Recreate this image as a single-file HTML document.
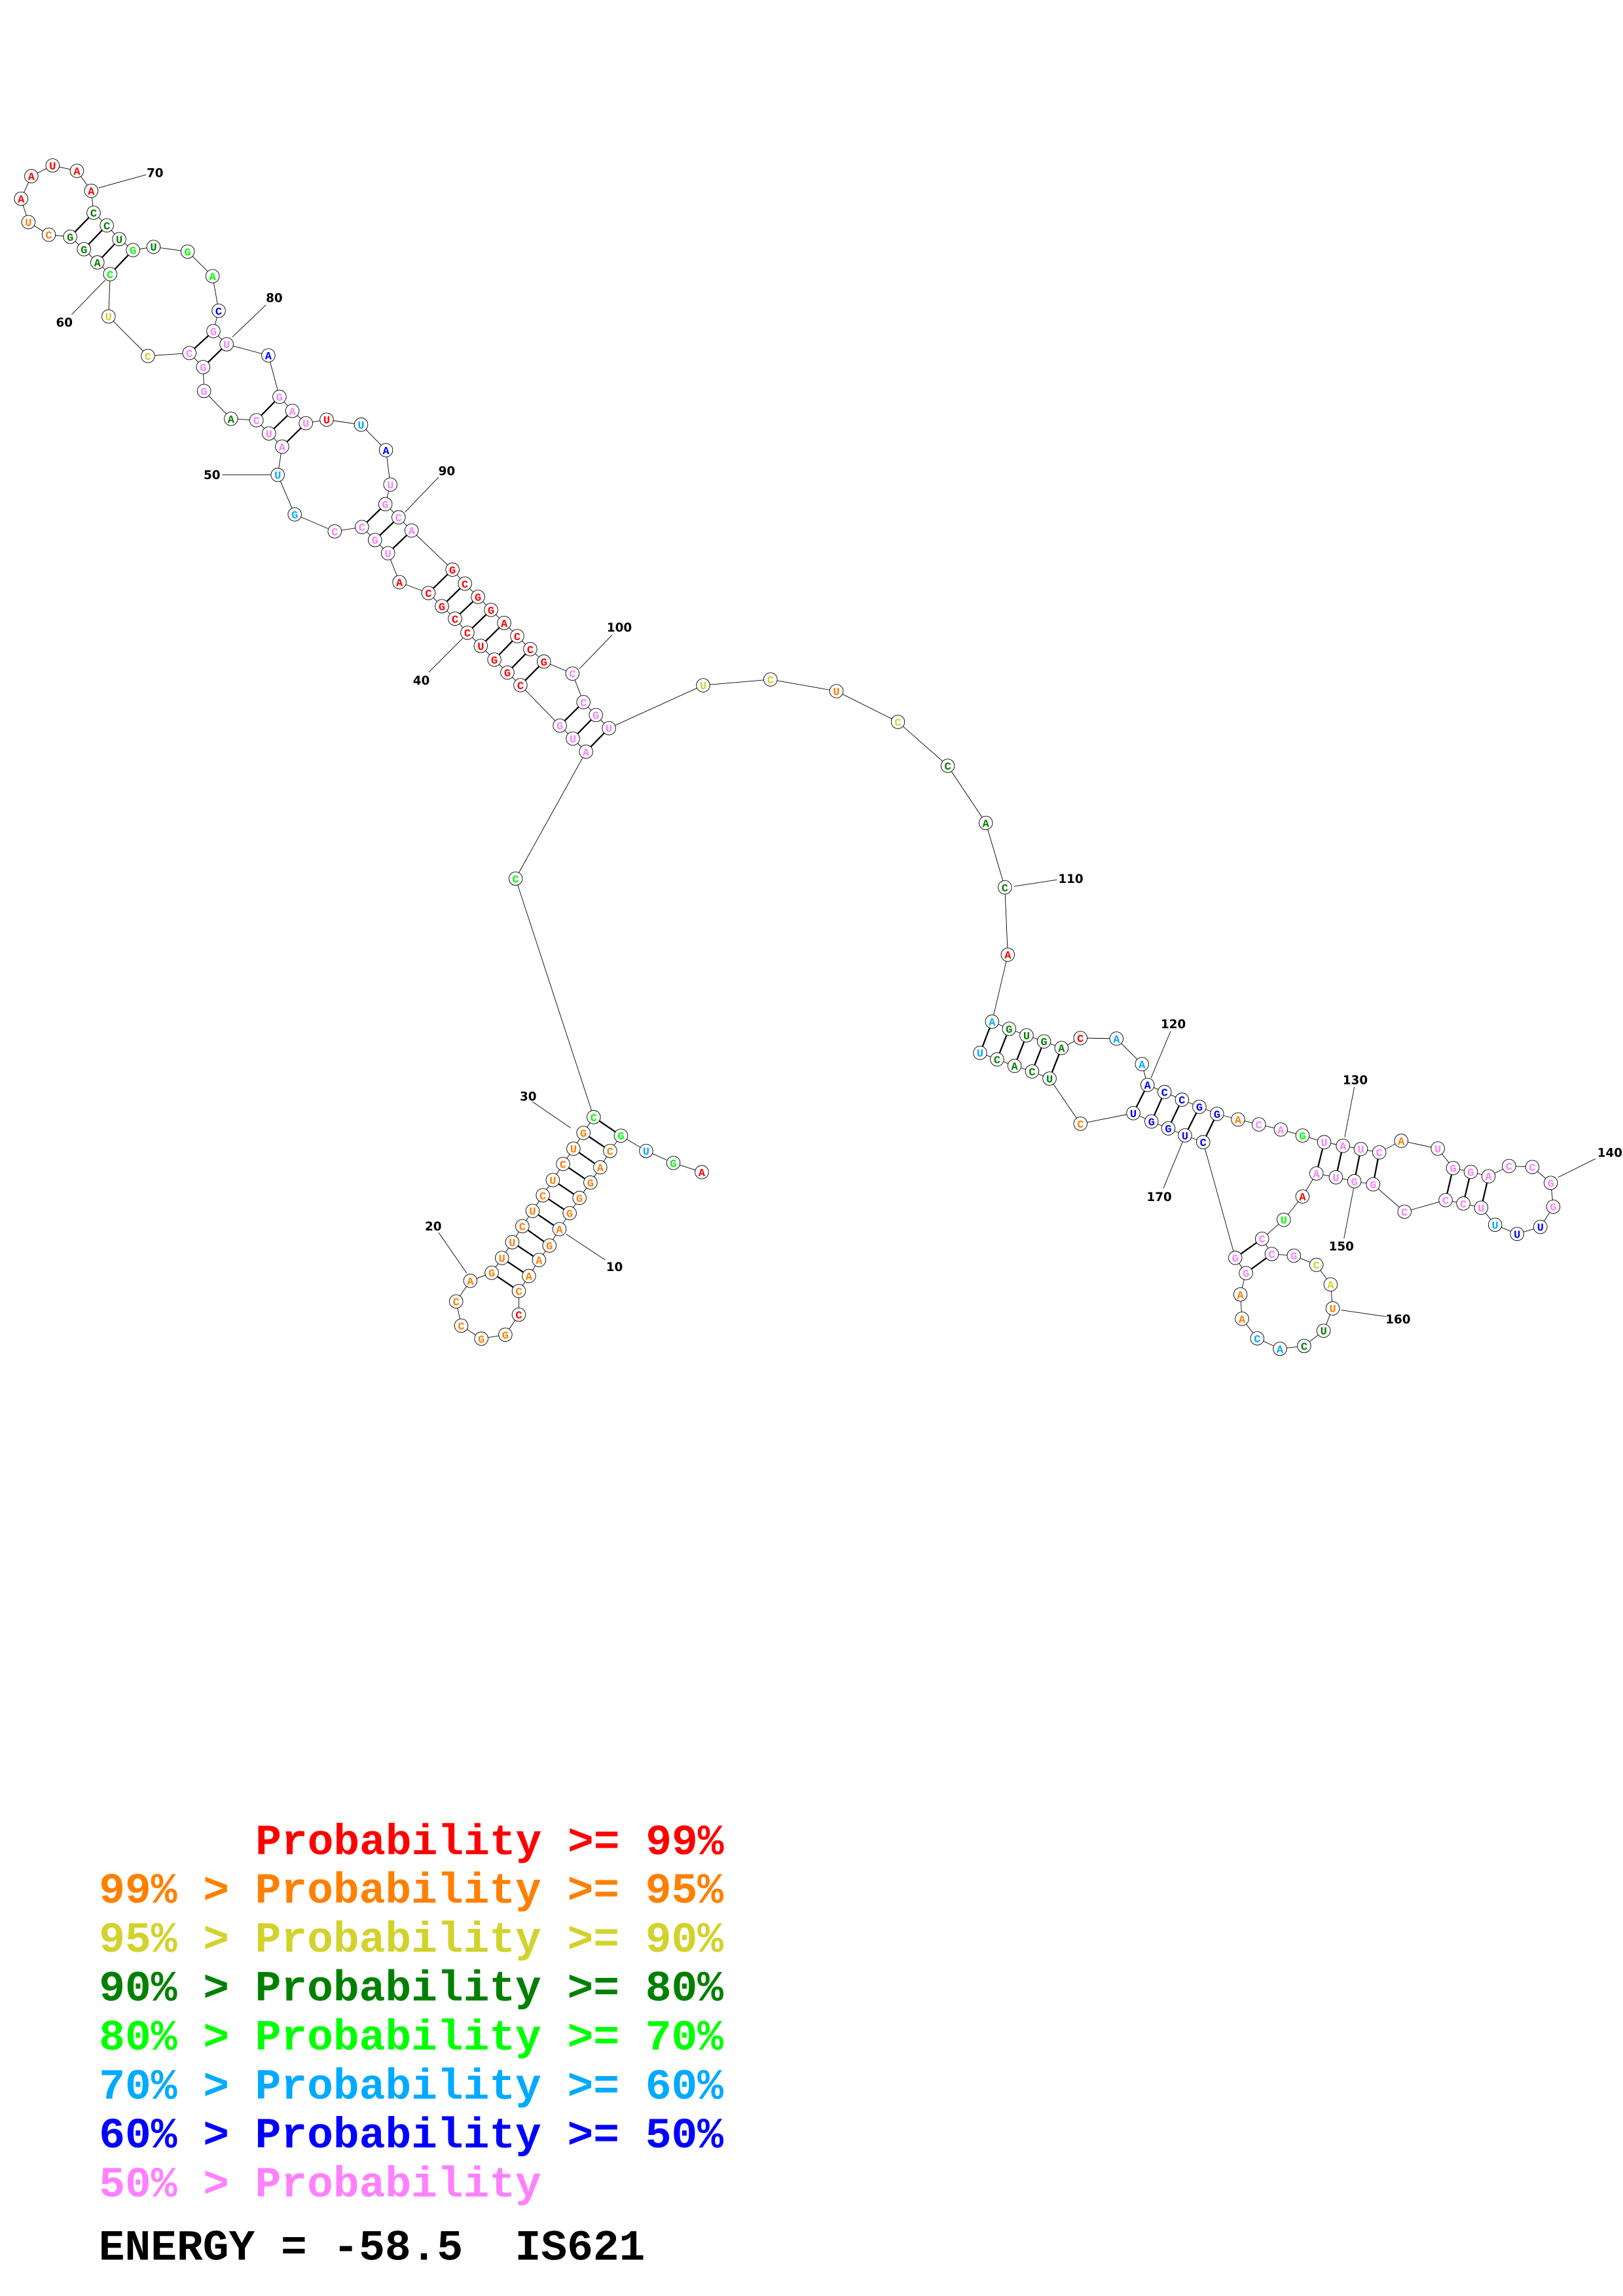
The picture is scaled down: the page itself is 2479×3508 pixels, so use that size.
<!DOCTYPE html>
<html><head><meta charset="utf-8"><style>
html,body{margin:0;padding:0;background:#fff;}
svg{display:block;}
.n{fill:#fff;stroke:#000;stroke-width:0.4;}
.t{font-family:"Liberation Mono",monospace;font-weight:bold;font-size:7.6px;text-anchor:middle;}
.R{fill:#ff0000}.O{fill:#ff8000}.Y{fill:#d2d22c}.D{fill:#008000}.L{fill:#00ff00}.B{fill:#00aaff}.N{fill:#0000ff}.P{fill:#ff80ff}
.lb{font-family:"DejaVu Sans","Liberation Sans",sans-serif;font-weight:bold;font-size:8.2px;text-anchor:middle;fill:#000}
.lg{font-family:"Liberation Mono",monospace;font-weight:bold;font-size:29.6px;}
</style></head><body>
<svg width="2479" height="3508" viewBox="0 0 1108 1568" preserveAspectRatio="none" xmlns="http://www.w3.org/2000/svg">
<rect width="1108" height="1568" fill="#fff"/>
<polyline fill="none" stroke="#000" stroke-width="0.4" points="479.1,800.5 459.7,794.2 441.1,786.0 423.9,775.6 416.5,786.0 409.8,797.2 403.1,807.6 395.6,818.1 388.9,828.5 381.9,839.4 375.1,850.6 368.0,860.5 361.1,871.4 354.2,881.7 354.2,897.8 345.0,911.5 328.6,914.2 314.9,905.3 311.4,888.8 321.1,874.7 335.7,869.2 342.7,859.1 349.7,848.3 356.6,837.4 363.6,827.0 370.6,816.3 377.4,805.9 384.4,794.9 391.5,784.5 398.3,773.7 405.3,762.9 352,600 400.1,513.3 391.1,504.4 382.2,495.5 355.3,467.9 346.4,459.3 337.5,450.5 328.2,441.1 319.1,432.1 310.6,422.5 301.7,414.0 292.5,405.0 272.7,397.6 264.9,377.8 256.0,368.8 247.1,359.9 228.5,362.9 201.2,351.3 189.6,324.3 192.6,305.0 183.6,296.0 175.1,287.0 157.7,286.0 139.3,267.0 138.7,250.7 129.3,241.1 101.0,243.1 74.1,216.1 75.2,187.2 66.5,179.2 57.3,170.2 47.9,161.7 33.3,160.3 19.4,151.7 14.4,135.7 21.4,120.3 35.9,113.0 52.5,116.7 62.3,130.3 63.9,145.3 72.9,153.9 81.4,163.3 90.8,170.8 104.8,168.6 128.1,171.8 145.1,188.6 149.3,212.2 145.7,226.1 154.7,235.1 183.2,242.7 190.8,271.0 199.6,280.6 208.8,289.0 223.0,286.6 246.5,290.0 263.5,307.4 266.5,330.9 263.1,344.3 272.1,353.3 281.0,362.3 308.9,389.0 317.4,398.6 326.3,407.6 335.2,416.5 344.2,425.4 353.1,434.4 362.0,443.3 371.3,451.8 390.8,460.0 398.3,479.5 406.8,488.3 415.7,497.3 480,468 526,464 571,472 613,493 647,523 673,562 686,606 688,652 677.3,697.7 688.9,702.6 700.8,707.1 712.7,711.2 724.7,715.7 737.6,708.9 762.2,709.3 779.6,726.7 783.4,740.9 795.0,745.8 806.9,751.0 818.8,755.9 830.8,760.7 845.2,764.5 859.4,767.9 874.4,771.4 889.2,775.5 904,780 916.8,782.5 929,784.7 941.6,787 956.6,779.1 981.6,784.4 992,797.7 1004.1,800.3 1016.2,803.3 1030.2,796.3 1046.1,797 1058.7,807.8 1060.4,824.1 1051.6,837.9 1035.7,842.7 1020.7,836.4 1011.2,824.8 999,821.9 986.9,819.6 958.8,827.5 937.4,808.8 924.6,806.7 912,804 898.7,801.4 889.2,817.1 876.4,833 861.6,846 868.2,856.4 883.3,857.5 898.7,863.8 908.4,877.2 909.8,893.5 903.6,908.8 890.3,919.2 873.8,921.1 858.3,914.0 847.9,900.6 846.8,884.0 850.6,869.4 843.3,859.0 821.4,780.0 809,775.4 797.6,770.6 786.1,765.9 773.7,760.2 737.6,767.4 716.5,736.6 704.6,731.7 692.6,727.9 680.7,723.5 669.1,719"/>
<g stroke="#000" stroke-width="1.0">
<line x1="423.9" y1="775.6" x2="405.3" y2="762.9"/><line x1="416.5" y1="786.0" x2="398.3" y2="773.7"/><line x1="409.8" y1="797.2" x2="391.5" y2="784.5"/><line x1="403.1" y1="807.6" x2="384.4" y2="794.9"/><line x1="395.6" y1="818.1" x2="377.4" y2="805.9"/><line x1="388.9" y1="828.5" x2="370.6" y2="816.3"/><line x1="381.9" y1="839.4" x2="363.6" y2="827.0"/><line x1="375.1" y1="850.6" x2="356.6" y2="837.4"/><line x1="368.0" y1="860.5" x2="349.7" y2="848.3"/><line x1="361.1" y1="871.4" x2="342.7" y2="859.1"/><line x1="354.2" y1="881.7" x2="335.7" y2="869.2"/>
<line x1="400.1" y1="513.3" x2="415.7" y2="497.3"/><line x1="391.1" y1="504.4" x2="406.8" y2="488.3"/><line x1="382.2" y1="495.5" x2="398.3" y2="479.5"/>
<line x1="355.3" y1="467.9" x2="371.3" y2="451.8"/><line x1="346.4" y1="459.3" x2="362.0" y2="443.3"/><line x1="337.5" y1="450.5" x2="353.1" y2="434.4"/><line x1="328.2" y1="441.1" x2="344.2" y2="425.4"/><line x1="319.1" y1="432.1" x2="335.2" y2="416.5"/><line x1="310.6" y1="422.5" x2="326.3" y2="407.6"/><line x1="301.7" y1="414.0" x2="317.4" y2="398.6"/><line x1="292.5" y1="405.0" x2="308.9" y2="389.0"/>
<line x1="264.9" y1="377.8" x2="281.0" y2="362.3"/><line x1="256.0" y1="368.8" x2="272.1" y2="353.3"/><line x1="247.1" y1="359.9" x2="263.1" y2="344.3"/>
<line x1="192.6" y1="305.0" x2="208.8" y2="289.0"/><line x1="183.6" y1="296.0" x2="199.6" y2="280.6"/><line x1="175.1" y1="287.0" x2="190.8" y2="271.0"/>
<line x1="138.7" y1="250.7" x2="154.7" y2="235.1"/><line x1="129.3" y1="241.1" x2="145.7" y2="226.1"/>
<line x1="75.2" y1="187.2" x2="90.8" y2="170.8"/><line x1="66.5" y1="179.2" x2="81.4" y2="163.3"/><line x1="57.3" y1="170.2" x2="72.9" y2="153.9"/><line x1="47.9" y1="161.7" x2="63.9" y2="145.3"/>
<line x1="677.3" y1="697.7" x2="669.1" y2="719"/><line x1="688.9" y1="702.6" x2="680.7" y2="723.5"/><line x1="700.8" y1="707.1" x2="692.6" y2="727.9"/><line x1="712.7" y1="711.2" x2="704.6" y2="731.7"/><line x1="724.7" y1="715.7" x2="716.5" y2="736.6"/>
<line x1="783.4" y1="740.9" x2="773.7" y2="760.2"/><line x1="795.0" y1="745.8" x2="786.1" y2="765.9"/><line x1="806.9" y1="751.0" x2="797.6" y2="770.6"/><line x1="818.8" y1="755.9" x2="809" y2="775.4"/><line x1="830.8" y1="760.7" x2="821.4" y2="780.0"/>
<line x1="904" y1="780" x2="898.7" y2="801.4"/><line x1="916.8" y1="782.5" x2="912" y2="804"/><line x1="929" y1="784.7" x2="924.6" y2="806.7"/><line x1="941.6" y1="787" x2="937.4" y2="808.8"/>
<line x1="992" y1="797.7" x2="986.9" y2="819.6"/><line x1="1004.1" y1="800.3" x2="999" y2="821.9"/><line x1="1016.2" y1="803.3" x2="1011.2" y2="824.8"/>
<line x1="861.6" y1="846" x2="843.3" y2="859.0"/><line x1="868.2" y1="856.4" x2="850.6" y2="869.4"/>
</g>
<g stroke="#000" stroke-width="0.4">
<line x1="386.4" y1="842.7" x2="413.2" y2="860.5"/><line x1="299.5" y1="841.8" x2="318.6" y2="869.5"/><line x1="363.5" y1="752.4" x2="389.6" y2="770.3"/><line x1="292.8" y1="459.0" x2="315.9" y2="435.9"/><line x1="151.7" y1="324.3" x2="185.2" y2="324.3"/><line x1="48.9" y1="214.8" x2="71.9" y2="191.2"/><line x1="67.3" y1="128.3" x2="99.8" y2="119.3"/><line x1="181.6" y1="208.2" x2="158.7" y2="230.1"/><line x1="299.4" y1="325.9" x2="276.4" y2="349.9"/><line x1="417.9" y1="433.6" x2="395.6" y2="456.7"/><line x1="692.4" y1="605.3" x2="721.6" y2="600.8"/><line x1="799.2" y1="704.1" x2="785.8" y2="736.1"/><line x1="924.6" y1="742.4" x2="918" y2="776.6"/><line x1="1089.1" y1="791.4" x2="1063.7" y2="804"/><line x1="917.5" y1="845.7" x2="924.1" y2="811.5"/><line x1="915.7" y1="894.7" x2="946.2" y2="899.1"/><line x1="794.2" y1="811.5" x2="807.5" y2="779.5"/>
</g>
<g class="lb">
<text x="419.5" y="868">10</text><text x="295.8" y="840.4">20</text><text x="360.6" y="751.7">30</text><text x="287.6" y="467.6">40</text><text x="144.7" y="327.3">50</text><text x="43.9" y="223.1">60</text><text x="105.8" y="120.9">70</text><text x="187.2" y="206.2">80</text><text x="305" y="324.5">90</text><text x="422.8" y="431.4">100</text><text x="731" y="603">110</text><text x="801" y="702.2">120</text><text x="925.2" y="740.5">130</text><text x="1099" y="790">140</text><text x="915.7" y="853.9">150</text><text x="954.4" y="903.9">160</text><text x="791.4" y="820.1">170</text>
</g>
<g class="nodes">
<circle class="n" cx="479.1" cy="800.5" r="4.6"/><circle class="n" cx="459.7" cy="794.2" r="4.6"/><circle class="n" cx="441.1" cy="786.0" r="4.6"/><circle class="n" cx="423.9" cy="775.6" r="4.6"/><circle class="n" cx="416.5" cy="786.0" r="4.6"/><circle class="n" cx="409.8" cy="797.2" r="4.6"/><circle class="n" cx="403.1" cy="807.6" r="4.6"/><circle class="n" cx="395.6" cy="818.1" r="4.6"/><circle class="n" cx="388.9" cy="828.5" r="4.6"/><circle class="n" cx="381.9" cy="839.4" r="4.6"/><circle class="n" cx="375.1" cy="850.6" r="4.6"/><circle class="n" cx="368.0" cy="860.5" r="4.6"/><circle class="n" cx="361.1" cy="871.4" r="4.6"/><circle class="n" cx="354.2" cy="881.7" r="4.6"/><circle class="n" cx="354.2" cy="897.8" r="4.6"/><circle class="n" cx="345.0" cy="911.5" r="4.6"/><circle class="n" cx="328.6" cy="914.2" r="4.6"/><circle class="n" cx="314.9" cy="905.3" r="4.6"/><circle class="n" cx="311.4" cy="888.8" r="4.6"/><circle class="n" cx="321.1" cy="874.7" r="4.6"/><circle class="n" cx="335.7" cy="869.2" r="4.6"/><circle class="n" cx="342.7" cy="859.1" r="4.6"/><circle class="n" cx="349.7" cy="848.3" r="4.6"/><circle class="n" cx="356.6" cy="837.4" r="4.6"/><circle class="n" cx="363.6" cy="827.0" r="4.6"/><circle class="n" cx="370.6" cy="816.3" r="4.6"/><circle class="n" cx="377.4" cy="805.9" r="4.6"/><circle class="n" cx="384.4" cy="794.9" r="4.6"/><circle class="n" cx="391.5" cy="784.5" r="4.6"/><circle class="n" cx="398.3" cy="773.7" r="4.6"/><circle class="n" cx="405.3" cy="762.9" r="4.6"/><circle class="n" cx="352" cy="600" r="4.6"/><circle class="n" cx="400.1" cy="513.3" r="4.6"/><circle class="n" cx="391.1" cy="504.4" r="4.6"/><circle class="n" cx="382.2" cy="495.5" r="4.6"/><circle class="n" cx="355.3" cy="467.9" r="4.6"/><circle class="n" cx="346.4" cy="459.3" r="4.6"/><circle class="n" cx="337.5" cy="450.5" r="4.6"/><circle class="n" cx="328.2" cy="441.1" r="4.6"/><circle class="n" cx="319.1" cy="432.1" r="4.6"/><circle class="n" cx="310.6" cy="422.5" r="4.6"/><circle class="n" cx="301.7" cy="414.0" r="4.6"/><circle class="n" cx="292.5" cy="405.0" r="4.6"/><circle class="n" cx="272.7" cy="397.6" r="4.6"/><circle class="n" cx="264.9" cy="377.8" r="4.6"/><circle class="n" cx="256.0" cy="368.8" r="4.6"/><circle class="n" cx="247.1" cy="359.9" r="4.6"/><circle class="n" cx="228.5" cy="362.9" r="4.6"/><circle class="n" cx="201.2" cy="351.3" r="4.6"/><circle class="n" cx="189.6" cy="324.3" r="4.6"/><circle class="n" cx="192.6" cy="305.0" r="4.6"/><circle class="n" cx="183.6" cy="296.0" r="4.6"/><circle class="n" cx="175.1" cy="287.0" r="4.6"/><circle class="n" cx="157.7" cy="286.0" r="4.6"/><circle class="n" cx="139.3" cy="267.0" r="4.6"/><circle class="n" cx="138.7" cy="250.7" r="4.6"/><circle class="n" cx="129.3" cy="241.1" r="4.6"/><circle class="n" cx="101.0" cy="243.1" r="4.6"/><circle class="n" cx="74.1" cy="216.1" r="4.6"/><circle class="n" cx="75.2" cy="187.2" r="4.6"/><circle class="n" cx="66.5" cy="179.2" r="4.6"/><circle class="n" cx="57.3" cy="170.2" r="4.6"/><circle class="n" cx="47.9" cy="161.7" r="4.6"/><circle class="n" cx="33.3" cy="160.3" r="4.6"/><circle class="n" cx="19.4" cy="151.7" r="4.6"/><circle class="n" cx="14.4" cy="135.7" r="4.6"/><circle class="n" cx="21.4" cy="120.3" r="4.6"/><circle class="n" cx="35.9" cy="113.0" r="4.6"/><circle class="n" cx="52.5" cy="116.7" r="4.6"/><circle class="n" cx="62.3" cy="130.3" r="4.6"/><circle class="n" cx="63.9" cy="145.3" r="4.6"/><circle class="n" cx="72.9" cy="153.9" r="4.6"/><circle class="n" cx="81.4" cy="163.3" r="4.6"/><circle class="n" cx="90.8" cy="170.8" r="4.6"/><circle class="n" cx="104.8" cy="168.6" r="4.6"/><circle class="n" cx="128.1" cy="171.8" r="4.6"/><circle class="n" cx="145.1" cy="188.6" r="4.6"/><circle class="n" cx="149.3" cy="212.2" r="4.6"/><circle class="n" cx="145.7" cy="226.1" r="4.6"/><circle class="n" cx="154.7" cy="235.1" r="4.6"/><circle class="n" cx="183.2" cy="242.7" r="4.6"/><circle class="n" cx="190.8" cy="271.0" r="4.6"/><circle class="n" cx="199.6" cy="280.6" r="4.6"/><circle class="n" cx="208.8" cy="289.0" r="4.6"/><circle class="n" cx="223.0" cy="286.6" r="4.6"/><circle class="n" cx="246.5" cy="290.0" r="4.6"/><circle class="n" cx="263.5" cy="307.4" r="4.6"/><circle class="n" cx="266.5" cy="330.9" r="4.6"/><circle class="n" cx="263.1" cy="344.3" r="4.6"/><circle class="n" cx="272.1" cy="353.3" r="4.6"/><circle class="n" cx="281.0" cy="362.3" r="4.6"/><circle class="n" cx="308.9" cy="389.0" r="4.6"/><circle class="n" cx="317.4" cy="398.6" r="4.6"/><circle class="n" cx="326.3" cy="407.6" r="4.6"/><circle class="n" cx="335.2" cy="416.5" r="4.6"/><circle class="n" cx="344.2" cy="425.4" r="4.6"/><circle class="n" cx="353.1" cy="434.4" r="4.6"/><circle class="n" cx="362.0" cy="443.3" r="4.6"/><circle class="n" cx="371.3" cy="451.8" r="4.6"/><circle class="n" cx="390.8" cy="460.0" r="4.6"/><circle class="n" cx="398.3" cy="479.5" r="4.6"/><circle class="n" cx="406.8" cy="488.3" r="4.6"/><circle class="n" cx="415.7" cy="497.3" r="4.6"/><circle class="n" cx="480" cy="468" r="4.6"/><circle class="n" cx="526" cy="464" r="4.6"/><circle class="n" cx="571" cy="472" r="4.6"/><circle class="n" cx="613" cy="493" r="4.6"/><circle class="n" cx="647" cy="523" r="4.6"/><circle class="n" cx="673" cy="562" r="4.6"/><circle class="n" cx="686" cy="606" r="4.6"/><circle class="n" cx="688" cy="652" r="4.6"/><circle class="n" cx="677.3" cy="697.7" r="4.6"/><circle class="n" cx="688.9" cy="702.6" r="4.6"/><circle class="n" cx="700.8" cy="707.1" r="4.6"/><circle class="n" cx="712.7" cy="711.2" r="4.6"/><circle class="n" cx="724.7" cy="715.7" r="4.6"/><circle class="n" cx="737.6" cy="708.9" r="4.6"/><circle class="n" cx="762.2" cy="709.3" r="4.6"/><circle class="n" cx="779.6" cy="726.7" r="4.6"/><circle class="n" cx="783.4" cy="740.9" r="4.6"/><circle class="n" cx="795.0" cy="745.8" r="4.6"/><circle class="n" cx="806.9" cy="751.0" r="4.6"/><circle class="n" cx="818.8" cy="755.9" r="4.6"/><circle class="n" cx="830.8" cy="760.7" r="4.6"/><circle class="n" cx="845.2" cy="764.5" r="4.6"/><circle class="n" cx="859.4" cy="767.9" r="4.6"/><circle class="n" cx="874.4" cy="771.4" r="4.6"/><circle class="n" cx="889.2" cy="775.5" r="4.6"/><circle class="n" cx="904" cy="780" r="4.6"/><circle class="n" cx="916.8" cy="782.5" r="4.6"/><circle class="n" cx="929" cy="784.7" r="4.6"/><circle class="n" cx="941.6" cy="787" r="4.6"/><circle class="n" cx="956.6" cy="779.1" r="4.6"/><circle class="n" cx="981.6" cy="784.4" r="4.6"/><circle class="n" cx="992" cy="797.7" r="4.6"/><circle class="n" cx="1004.1" cy="800.3" r="4.6"/><circle class="n" cx="1016.2" cy="803.3" r="4.6"/><circle class="n" cx="1030.2" cy="796.3" r="4.6"/><circle class="n" cx="1046.1" cy="797" r="4.6"/><circle class="n" cx="1058.7" cy="807.8" r="4.6"/><circle class="n" cx="1060.4" cy="824.1" r="4.6"/><circle class="n" cx="1051.6" cy="837.9" r="4.6"/><circle class="n" cx="1035.7" cy="842.7" r="4.6"/><circle class="n" cx="1020.7" cy="836.4" r="4.6"/><circle class="n" cx="1011.2" cy="824.8" r="4.6"/><circle class="n" cx="999" cy="821.9" r="4.6"/><circle class="n" cx="986.9" cy="819.6" r="4.6"/><circle class="n" cx="958.8" cy="827.5" r="4.6"/><circle class="n" cx="937.4" cy="808.8" r="4.6"/><circle class="n" cx="924.6" cy="806.7" r="4.6"/><circle class="n" cx="912" cy="804" r="4.6"/><circle class="n" cx="898.7" cy="801.4" r="4.6"/><circle class="n" cx="889.2" cy="817.1" r="4.6"/><circle class="n" cx="876.4" cy="833" r="4.6"/><circle class="n" cx="861.6" cy="846" r="4.6"/><circle class="n" cx="868.2" cy="856.4" r="4.6"/><circle class="n" cx="883.3" cy="857.5" r="4.6"/><circle class="n" cx="898.7" cy="863.8" r="4.6"/><circle class="n" cx="908.4" cy="877.2" r="4.6"/><circle class="n" cx="909.8" cy="893.5" r="4.6"/><circle class="n" cx="903.6" cy="908.8" r="4.6"/><circle class="n" cx="890.3" cy="919.2" r="4.6"/><circle class="n" cx="873.8" cy="921.1" r="4.6"/><circle class="n" cx="858.3" cy="914.0" r="4.6"/><circle class="n" cx="847.9" cy="900.6" r="4.6"/><circle class="n" cx="846.8" cy="884.0" r="4.6"/><circle class="n" cx="850.6" cy="869.4" r="4.6"/><circle class="n" cx="843.3" cy="859.0" r="4.6"/><circle class="n" cx="821.4" cy="780.0" r="4.6"/><circle class="n" cx="809" cy="775.4" r="4.6"/><circle class="n" cx="797.6" cy="770.6" r="4.6"/><circle class="n" cx="786.1" cy="765.9" r="4.6"/><circle class="n" cx="773.7" cy="760.2" r="4.6"/><circle class="n" cx="737.6" cy="767.4" r="4.6"/><circle class="n" cx="716.5" cy="736.6" r="4.6"/><circle class="n" cx="704.6" cy="731.7" r="4.6"/><circle class="n" cx="692.6" cy="727.9" r="4.6"/><circle class="n" cx="680.7" cy="723.5" r="4.6"/><circle class="n" cx="669.1" cy="719" r="4.6"/>
</g>
<g class="t">
<text class="R" x="479.1" y="803.2">A</text><text class="L" x="459.7" y="796.9">G</text><text class="B" x="441.1" y="788.7">U</text><text class="L" x="423.9" y="778.3">G</text><text class="O" x="416.5" y="788.7">C</text><text class="O" x="409.8" y="799.9">A</text><text class="O" x="403.1" y="810.3">G</text><text class="O" x="395.6" y="820.8">G</text><text class="O" x="388.9" y="831.2">G</text><text class="O" x="381.9" y="842.1">A</text><text class="O" x="375.1" y="853.3">G</text><text class="O" x="368.0" y="863.2">A</text><text class="O" x="361.1" y="874.1">A</text><text class="O" x="354.2" y="884.4">C</text><text class="R" x="354.2" y="900.5">C</text><text class="O" x="345.0" y="914.2">G</text><text class="O" x="328.6" y="916.9">G</text><text class="O" x="314.9" y="908.0">C</text><text class="O" x="311.4" y="891.5">C</text><text class="O" x="321.1" y="877.4">A</text><text class="O" x="335.7" y="871.9">G</text><text class="O" x="342.7" y="861.8">U</text><text class="O" x="349.7" y="851.0">U</text><text class="O" x="356.6" y="840.1">C</text><text class="O" x="363.6" y="829.7">U</text><text class="O" x="370.6" y="819.0">C</text><text class="O" x="377.4" y="808.6">U</text><text class="O" x="384.4" y="797.6">C</text><text class="O" x="391.5" y="787.2">U</text><text class="O" x="398.3" y="776.4">G</text><text class="L" x="405.3" y="765.6">C</text><text class="L" x="352" y="602.7">C</text><text class="P" x="400.1" y="516.0">A</text><text class="P" x="391.1" y="507.1">U</text><text class="P" x="382.2" y="498.2">G</text><text class="R" x="355.3" y="470.6">C</text><text class="R" x="346.4" y="462.0">G</text><text class="R" x="337.5" y="453.2">G</text><text class="R" x="328.2" y="443.8">U</text><text class="R" x="319.1" y="434.8">C</text><text class="R" x="310.6" y="425.2">C</text><text class="R" x="301.7" y="416.7">G</text><text class="R" x="292.5" y="407.7">C</text><text class="R" x="272.7" y="400.3">A</text><text class="P" x="264.9" y="380.5">U</text><text class="P" x="256.0" y="371.5">G</text><text class="P" x="247.1" y="362.6">C</text><text class="P" x="228.5" y="365.6">C</text><text class="B" x="201.2" y="354.0">G</text><text class="B" x="189.6" y="327.0">U</text><text class="P" x="192.6" y="307.7">A</text><text class="P" x="183.6" y="298.7">U</text><text class="P" x="175.1" y="289.7">C</text><text class="D" x="157.7" y="288.7">A</text><text class="P" x="139.3" y="269.7">G</text><text class="P" x="138.7" y="253.4">G</text><text class="P" x="129.3" y="243.8">C</text><text class="Y" x="101.0" y="245.8">C</text><text class="Y" x="74.1" y="218.8">U</text><text class="L" x="75.2" y="189.9">C</text><text class="D" x="66.5" y="181.9">A</text><text class="D" x="57.3" y="172.9">G</text><text class="D" x="47.9" y="164.4">G</text><text class="O" x="33.3" y="163.0">C</text><text class="O" x="19.4" y="154.4">U</text><text class="R" x="14.4" y="138.4">A</text><text class="R" x="21.4" y="123.0">A</text><text class="R" x="35.9" y="115.7">U</text><text class="R" x="52.5" y="119.4">A</text><text class="R" x="62.3" y="133.0">A</text><text class="D" x="63.9" y="148.0">C</text><text class="D" x="72.9" y="156.6">C</text><text class="D" x="81.4" y="166.0">U</text><text class="L" x="90.8" y="173.5">G</text><text class="D" x="104.8" y="171.3">U</text><text class="L" x="128.1" y="174.5">G</text><text class="L" x="145.1" y="191.3">A</text><text class="N" x="149.3" y="214.9">C</text><text class="P" x="145.7" y="228.8">G</text><text class="P" x="154.7" y="237.8">U</text><text class="N" x="183.2" y="245.4">A</text><text class="P" x="190.8" y="273.7">G</text><text class="P" x="199.6" y="283.3">A</text><text class="P" x="208.8" y="291.7">U</text><text class="R" x="223.0" y="289.3">U</text><text class="B" x="246.5" y="292.7">U</text><text class="N" x="263.5" y="310.1">A</text><text class="P" x="266.5" y="333.6">U</text><text class="P" x="263.1" y="347.0">G</text><text class="P" x="272.1" y="356.0">C</text><text class="P" x="281.0" y="365.0">A</text><text class="R" x="308.9" y="391.7">G</text><text class="R" x="317.4" y="401.3">C</text><text class="R" x="326.3" y="410.3">G</text><text class="R" x="335.2" y="419.2">G</text><text class="R" x="344.2" y="428.1">A</text><text class="R" x="353.1" y="437.1">C</text><text class="R" x="362.0" y="446.0">C</text><text class="R" x="371.3" y="454.5">G</text><text class="P" x="390.8" y="462.7">C</text><text class="P" x="398.3" y="482.2">C</text><text class="P" x="406.8" y="491.0">G</text><text class="P" x="415.7" y="500.0">U</text><text class="Y" x="480" y="470.7">U</text><text class="Y" x="526" y="466.7">C</text><text class="O" x="571" y="474.7">U</text><text class="Y" x="613" y="495.7">C</text><text class="D" x="647" y="525.7">C</text><text class="D" x="673" y="564.7">A</text><text class="D" x="686" y="608.7">C</text><text class="R" x="688" y="654.7">A</text><text class="B" x="677.3" y="700.4">A</text><text class="D" x="688.9" y="705.3">G</text><text class="D" x="700.8" y="709.8">U</text><text class="D" x="712.7" y="713.9">G</text><text class="D" x="724.7" y="718.4">A</text><text class="R" x="737.6" y="711.6">C</text><text class="B" x="762.2" y="712.0">A</text><text class="B" x="779.6" y="729.4">A</text><text class="N" x="783.4" y="743.6">A</text><text class="N" x="795.0" y="748.5">C</text><text class="N" x="806.9" y="753.7">C</text><text class="N" x="818.8" y="758.6">G</text><text class="N" x="830.8" y="763.4">G</text><text class="O" x="845.2" y="767.2">A</text><text class="P" x="859.4" y="770.6">C</text><text class="P" x="874.4" y="774.1">A</text><text class="L" x="889.2" y="778.2">G</text><text class="P" x="904" y="782.7">U</text><text class="P" x="916.8" y="785.2">A</text><text class="P" x="929" y="787.4">U</text><text class="P" x="941.6" y="789.7">C</text><text class="O" x="956.6" y="781.8">A</text><text class="P" x="981.6" y="787.1">U</text><text class="P" x="992" y="800.4">G</text><text class="P" x="1004.1" y="803.0">G</text><text class="P" x="1016.2" y="806.0">A</text><text class="P" x="1030.2" y="799.0">C</text><text class="P" x="1046.1" y="799.7">C</text><text class="P" x="1058.7" y="810.5">G</text><text class="P" x="1060.4" y="826.8">G</text><text class="N" x="1051.6" y="840.6">U</text><text class="N" x="1035.7" y="845.4">U</text><text class="B" x="1020.7" y="839.1">U</text><text class="P" x="1011.2" y="827.5">U</text><text class="P" x="999" y="824.6">C</text><text class="P" x="986.9" y="822.3">C</text><text class="P" x="958.8" y="830.2">C</text><text class="P" x="937.4" y="811.5">G</text><text class="P" x="924.6" y="809.4">G</text><text class="P" x="912" y="806.7">U</text><text class="P" x="898.7" y="804.1">A</text><text class="R" x="889.2" y="819.8">A</text><text class="L" x="876.4" y="835.7">U</text><text class="P" x="861.6" y="848.7">C</text><text class="P" x="868.2" y="859.1">C</text><text class="P" x="883.3" y="860.2">G</text><text class="Y" x="898.7" y="866.5">C</text><text class="Y" x="908.4" y="879.9">A</text><text class="O" x="909.8" y="896.2">U</text><text class="D" x="903.6" y="911.5">U</text><text class="D" x="890.3" y="921.9">C</text><text class="B" x="873.8" y="923.8">A</text><text class="B" x="858.3" y="916.7">C</text><text class="O" x="847.9" y="903.3">A</text><text class="O" x="846.8" y="886.7">A</text><text class="P" x="850.6" y="872.1">G</text><text class="P" x="843.3" y="861.7">G</text><text class="N" x="821.4" y="782.7">C</text><text class="N" x="809" y="778.1">U</text><text class="N" x="797.6" y="773.3">G</text><text class="N" x="786.1" y="768.6">G</text><text class="N" x="773.7" y="762.9">U</text><text class="O" x="737.6" y="770.1">C</text><text class="D" x="716.5" y="739.3">U</text><text class="D" x="704.6" y="734.4">C</text><text class="D" x="692.6" y="730.6">A</text><text class="D" x="680.7" y="726.2">C</text><text class="B" x="669.1" y="721.7">U</text>
</g>
<g class="lg">
<text x="174.4" y="1266.3" fill="#ff0000">Probability &gt;= 99%</text>
<text x="67.6" y="1299.4" fill="#ff8000">99% &gt; Probability &gt;= 95%</text>
<text x="67.6" y="1332.9" fill="#d2d22c">95% &gt; Probability &gt;= 90%</text>
<text x="67.6" y="1366.2" fill="#008000">90% &gt; Probability &gt;= 80%</text>
<text x="67.6" y="1399.7" fill="#00ff00">80% &gt; Probability &gt;= 70%</text>
<text x="67.6" y="1433.2" fill="#00aaff">70% &gt; Probability &gt;= 60%</text>
<text x="67.6" y="1466.5" fill="#0000ff">60% &gt; Probability &gt;= 50%</text>
<text x="67.6" y="1500.0" fill="#ff80ff">50% &gt; Probability</text>
<text x="67.4" y="1543.3" fill="#000" xml:space="preserve">ENERGY = -58.5  IS621</text>
</g>
</svg>
</body></html>
